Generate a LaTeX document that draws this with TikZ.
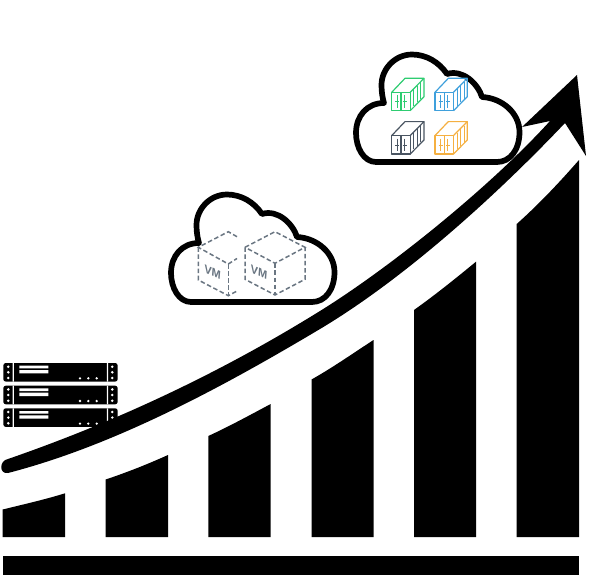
\documentclass[tikz,border=0pt]{standalone}
\usepackage{fontspec}
\setmainfont{Liberation Sans}
\definecolor{cgreen}{HTML}{2ECC71}
\definecolor{cblue}{HTML}{3FA0DC}
\definecolor{cgray}{HTML}{4A5562}
\definecolor{corange}{HTML}{F5B041}
\definecolor{vmgray}{HTML}{6A7682}
\tikzset{
  cloudline/.style={line width=5.7pt,line join=round,draw=black,fill=white},
  vmline/.style={draw=vmgray,line width=1.5pt,dash pattern=on 4.5pt off 2.6pt},
  vmlabel/.style={text=vmgray,font=\bfseries\fontsize{11.5}{12}\selectfont,cm={0.95,-0.45,0.08,1,(0,0)},inner sep=0pt},
  pics/cloudshape/.style={code={
    \path[cloudline] (376,162) -- (497,162)
      .. controls (510,162) and (519.5,150) .. (519.5,132)
      .. controls (519.5,113) and (502,98) .. (482,97)
      .. controls (478,84) and (463,69) .. (447,74)
      .. controls (439,62) and (426,54.5) .. (412,54.5)
      .. controls (395,54.5) and (381.5,69) .. (381.5,85)
      .. controls (381.5,92) and (382.5,98) .. (384,103)
      .. controls (367,103) and (356,116) .. (356,133)
      .. controls (356,148) and (364,162) .. (376,162) -- cycle;
  }},
  pics/boxunit/.style={code={
    \begin{scope}[draw=#1,line width=1.2pt,line join=round]
      \draw (0,14) -- (18.5,14) -- (18.5,32.4) -- (0,32.4) -- cycle;
      \draw (0,14) -- (13.3,0) -- (32.3,0) -- (18.5,14);
      \draw (32.3,0) -- (32.3,18.4) -- (18.5,32.4);
      \draw (9.2,14) -- (9.2,32.4);
      \draw[line width=1pt] (5.6,17) -- (5.6,29.5) (12.8,17) -- (12.8,29.5);
      \draw[line width=.8pt] (3.5,23.5) -- (7.5,23.5) (11,23.5) -- (15,23.5);
      \draw[line width=.9pt] (22.2,11) -- (22.2,27.5) (25.7,7.5) -- (25.7,24) (29.2,4) -- (29.2,20.5);
    \end{scope}
  }},
  pics/rackunit/.style={code={
    \fill[black,rounded corners=2.5pt] (0,0) rectangle (114.4,18.6);
    \fill[white] (9.4,0) rectangle (10.6,18.6) (103.6,0) rectangle (104.8,18.6);
    \fill[white] (5,3.7) circle (1.4) (5,9.3) circle (1.4) (5,15) circle (1.4);
    \fill[white] (109,3.7) circle (1.4) (109,9.3) circle (1.4) (109,15) circle (1.4);
    \fill[white] (16,2.7) rectangle (45,5.3) (16,7) rectangle (45,10.3);
    \fill[white] (76.7,15.3) circle (1.3) (85,15.3) circle (1.3) (93.4,15.3) circle (1.3);
  }}
}
\begin{document}
\begin{tikzpicture}[x=1pt,y=-1pt]
\useasboundingbox (0,0) rectangle (615,575);
\fill[white] (0,0) rectangle (615,575);
% base and bars
\fill[black] (2.7,555.5) rectangle (579,575);
\fill[black] (2.7,537) -- (2.7,509.5) .. controls (25,504) and (45,499.5) .. (65,493.3) -- (65,537) -- cycle;
\fill[black] (105.7,537) -- (105.7,479.5) .. controls (128,472) and (148,464) .. (168,455) -- (168,537) -- cycle;
\fill[black] (208.3,537) -- (208.3,436) .. controls (230,426) and (250,415) .. (270.7,404) -- (270.7,537) -- cycle;
\fill[black] (311.5,537) -- (311.5,379.5) .. controls (332,368) and (352,354) .. (373.5,340) -- (373.5,537) -- cycle;
\fill[black] (414,537) -- (414,310) .. controls (435,295) and (455,279) .. (476,261.7) -- (476,537) -- cycle;
\fill[black] (516.7,537) -- (516.7,224) .. controls (538,205) and (558,184) .. (579,160) -- (579,537) -- cycle;
% racks
\pic at (3.3,363) {rackunit};
\pic at (3.3,385.7) {rackunit};
\pic at (3.3,408.3) {rackunit};
% clouds
\pic at (0,0) {cloudshape};
\pic at (-185,140) {cloudshape};
% containers
\pic at (391.7,78.3) {boxunit=cgreen};
\pic at (435,78.3) {boxunit=cblue};
\pic at (391.7,121.6) {boxunit=cgray};
\pic at (435,121.6) {boxunit=corange};
% VM cubes
\draw[vmline] (237,236.7) -- (228.3,231.7) -- (198.3,247.3) -- (228.3,264) -- (237,258.5);
\draw[vmline] (198.3,247.3) -- (198.3,280) -- (228.3,295.7) -- (237,291);
\draw[vmline] (228.3,264) -- (228.3,295.7);
\draw[vmline] (245,247.3) -- (275,231.7) -- (305,247.3) -- (275,263.3) -- cycle;
\draw[vmline] (245,247.3) -- (245,279.3) -- (275,295) -- (305,279.3) -- (305,247.3);
\draw[vmline] (275,263.3) -- (275,295);
\node[vmlabel] (vmA) at (212.7,272) {VM};
\node[vmlabel] (vmB) at (259,272) {VM};
% growth arrow
\fill[black] (8,459) .. controls (112,423) and (216,375.5) .. (320,311)
  .. controls (390,267.6) and (490,187) .. (550,121)
  -- (522,127) -- (577,75) -- (586,156) -- (565,123)
  .. controls (490,202) and (400,281.3) .. (320,329)
  .. controls (216,391) and (112,446) .. (8,473)
  .. controls (-1,474.5) and (-1,460.5) .. (8,459) -- cycle;
\end{tikzpicture}
\end{document}
